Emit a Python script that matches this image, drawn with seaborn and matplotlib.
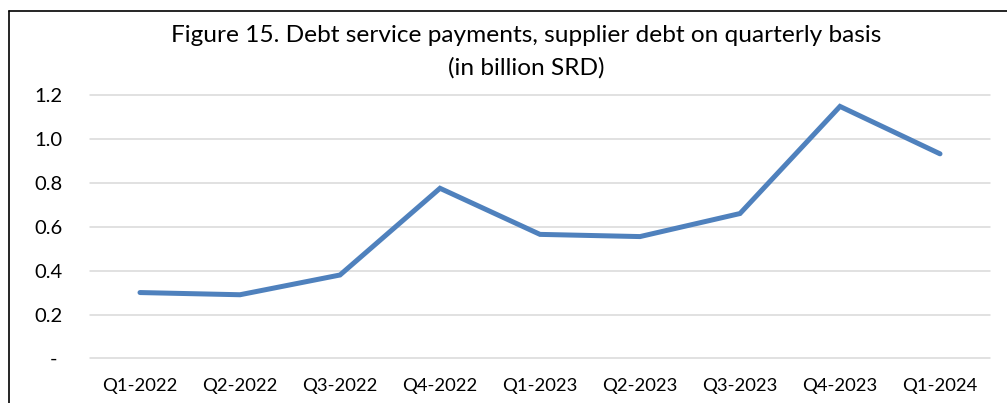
import matplotlib
matplotlib.use("Agg")
import matplotlib.pyplot as plt
from matplotlib.lines import Line2D
import pandas as pd
import seaborn as sns

# Quarterly debt service payments on supplier debt (billion SRD)
quarters = ["Q1-2022", "Q2-2022", "Q3-2022", "Q4-2022",
            "Q1-2023", "Q2-2023", "Q3-2023", "Q4-2023", "Q1-2024"]
payments = [0.30, 0.29, 0.38, 0.775, 0.565, 0.555, 0.66, 1.148, 0.932]

y_ticks = [0.0, 0.2, 0.4, 0.6, 0.8, 1.0, 1.2]
y_tick_labels = ["- ", "0.2", "0.4", "0.6", "0.8", "1.0", "1.2"]

title_lines = ["Figure 15. Debt service payments, supplier debt on quarterly basis",
               "(in billion SRD)"]

sns.set_theme(style="white")
plt.rcParams["font.family"] = ["Lato", "DejaVu Sans"]

df = pd.DataFrame({"quarter": quarters, "value": payments})

W, H = 1007, 403
fig = plt.figure(figsize=(W / 100, H / 100), dpi=100)
fig.patch.set_facecolor("white")

ax = fig.add_axes([90 / W, (H - 358.4) / H, 900 / W, (358.4 - 95) / H])

sns.lineplot(data=df, x="quarter", y="value", sort=False, ax=ax,
             color="#4F81BD", linewidth=3.6, solid_capstyle="round",
             solid_joinstyle="miter")

ax.set_xlim(-0.5, len(quarters) - 0.5)
ax.set_ylim(0, 1.2)
ax.set_yticks(y_ticks)
ax.set_yticklabels(y_tick_labels)
ax.set_xlabel("")
ax.set_ylabel("")

for y in y_ticks:
    ax.axhline(y, color="#D9D9D9", linewidth=1.1, zorder=0, clip_on=False)

for s in ax.spines.values():
    s.set_visible(False)

ax.tick_params(axis="y", length=0, pad=20, labelsize=14.5, labelcolor="black")
ax.tick_params(axis="x", length=0, pad=14, labelsize=13.3, labelcolor="black")

# Two-line chart title
for line, baseline in zip(title_lines, [41.5, 74.5]):
    fig.text(526 / W, (H - baseline) / H, line, ha="center", va="baseline",
             fontsize=17.6, color="black")

# Chart frame (left and top edges)
fig.add_artist(Line2D([8.5 / W, 8.5 / W], [0, (H - 11) / H],
                      transform=fig.transFigure, color="black", linewidth=1.2))
fig.add_artist(Line2D([8.5 / W, 1.0], [(H - 11) / H, (H - 11) / H],
                      transform=fig.transFigure, color="black", linewidth=1.2))

fig.savefig("out.png", dpi=100)
